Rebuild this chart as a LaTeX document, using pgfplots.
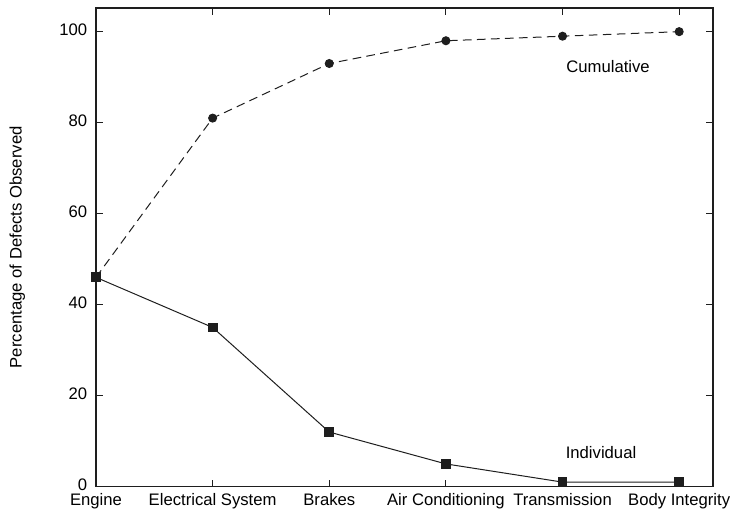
\documentclass[border=0pt]{standalone}
\usepackage{fontspec}
\setmainfont{Liberation Sans}
\usepackage{pgfplots}
\pgfplotsset{compat=1.18}

\definecolor{ink}{HTML}{1E1E1E}

\begin{document}
\begin{tikzpicture}
\begin{axis}[
    name=ax,
    scale only axis,
    width=462.75pt, height=359pt,
    xmin=0, xmax=5.29,
    ymin=0, ymax=105.2,
    xtick={0,1,2,3,4,5},
    xticklabels={Engine, Electrical System, Brakes, Air Conditioning, Transmission, Body Integrity},
    ytick={0,20,40,60,80,100},
    tick align=inside,
    major tick length=5pt,
    tick style={line width=0.8pt, color=ink},
    axis line style={line width=1.2pt, color=ink},
    font=\fontsize{12.5}{15}\selectfont,
    /pgf/number format/assume math mode=true,
    ylabel={Percentage of Defects Observed},
    every axis y label/.style={at={(rel axis cs:0,0.5)}, xshift=-59pt, rotate=90, anchor=center},
    yticklabel style={inner sep=0pt, xshift=-6.5pt, yshift=1.5pt},
    xticklabel style={inner sep=0pt, yshift=-5pt},
    clip=false,
]
% cumulative
\addplot[ink, line width=0.75pt, dash pattern=on 6.5pt off 4pt, mark=*, mark size=3pt,
    mark options={solid, fill=ink}]
    coordinates {(0,46) (1,81) (2,93) (3,98) (4,99) (5,100)};
% individual
\addplot[ink, line width=0.75pt, mark=square*, mark size=3.3pt,
    mark options={solid, fill=ink}]
    coordinates {(0,46) (1,35) (2,12) (3,5) (4,1) (5,1)};
\node[font=\fontsize{12.5}{15}\selectfont] at (axis cs:4.39,92.3) {Cumulative};
\node[font=\fontsize{12.5}{15}\selectfont] at (axis cs:4.33,7.5) {Individual};
\end{axis}
\path ([shift={(-72pt,-22pt)}]ax.south west) ([shift={(15pt,6pt)}]ax.north east);
\end{tikzpicture}
\end{document}
